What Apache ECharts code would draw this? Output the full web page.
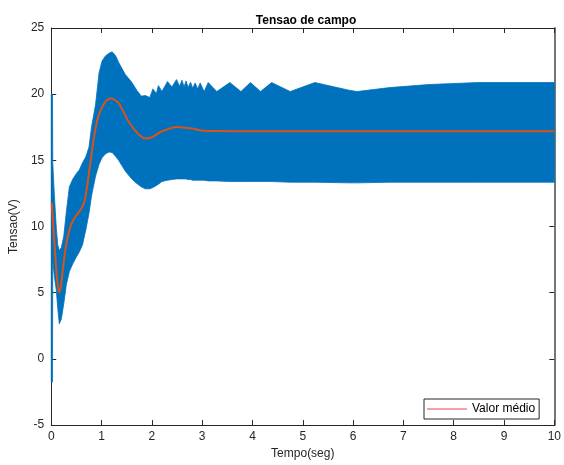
<!DOCTYPE html>
<html>
<head>
<meta charset="utf-8">
<script src="https://cdn.jsdelivr.net/npm/echarts@6/dist/echarts.min.js"></script>
<style>html,body{margin:0;padding:0;background:#fff;}#c{width:564px;height:465px;}</style>
</head>
<body>
<div id="c"></div>
<script>
// Envelope of the oscillating field voltage (time in s, volts)
const envTime  = [0, 0.025, 0.03, 0.06, 0.1, 0.13, 0.16, 0.2, 0.25, 0.3, 0.36, 0.43, 0.5, 0.56, 0.62, 0.69, 0.75, 0.8, 0.88, 0.95, 1.01, 1.08, 1.15, 1.21, 1.28, 1.34, 1.47, 1.6, 1.7, 1.79, 1.87, 1.96, 2.02, 2.09, 2.13, 2.2, 2.31, 2.4, 2.49, 2.55, 2.6, 2.64, 2.68, 2.72, 2.77, 2.81, 2.86, 2.91, 2.96, 3.04, 3.12, 3.29, 3.55, 3.77, 3.96, 4.16, 4.38, 4.75, 5.24, 5.92, 6.08, 6.73, 7.51, 8.49, 10];
const envUpper = [20, 20, 14.8, 12.5, 9.9, 8.6, 8.2, 8.4, 9.3, 11.1, 13.0, 13.6, 14.0, 14.3, 14.8, 15.3, 16.0, 17.5, 19.2, 21.6, 22.5, 22.9, 23.1, 23.2, 22.9, 22.4, 21.5, 20.9, 20.3, 19.85, 19.9, 19.75, 20.4, 20.05, 20.65, 20.2, 20.95, 20.55, 21.1, 20.6, 21.05, 20.55, 21.0, 20.5, 20.9, 20.45, 20.85, 20.4, 20.85, 20.2, 20.88, 20.2, 20.88, 20.2, 20.88, 20.2, 20.88, 20.2, 20.88, 20.3, 20.2, 20.5, 20.73, 20.88, 20.88];
const envLower = [-1.75, -1.75, 7.5, 6.3, 5.2, 3.8, 2.65, 3.0, 4.2, 5.6, 6.6, 7.2, 7.7, 8.1, 8.6, 9.8, 11.0, 12.3, 13.8, 14.7, 15.2, 15.5, 15.63, 15.6, 15.3, 15.0, 14.2, 13.6, 13.25, 13.0, 12.85, 12.85, 12.95, 13.1, 13.2, 13.4, 13.5, 13.55, 13.6, 13.6, 13.6, 13.6, 13.6, 13.55, 13.55, 13.5, 13.5, 13.5, 13.5, 13.5, 13.45, 13.45, 13.4, 13.4, 13.4, 13.4, 13.4, 13.35, 13.35, 13.3, 13.3, 13.35, 13.35, 13.35, 13.35];

// Mean value ("Valor médio")
const meanTime  = [0.01, 0.03, 0.07, 0.11, 0.156, 0.19, 0.234, 0.3, 0.4, 0.49, 0.59, 0.66, 0.72, 0.82, 0.88, 0.95, 1.08, 1.19, 1.34, 1.53, 1.73, 1.86, 2.0, 2.2, 2.51, 2.8, 3.03, 4, 10];
const meanValue = [11.8, 10.6, 8.4, 6.3, 5.0, 5.4, 6.9, 8.7, 10.2, 10.8, 11.3, 11.9, 13.2, 16.0, 17.4, 18.5, 19.45, 19.7, 19.33, 17.97, 16.98, 16.66, 16.75, 17.2, 17.53, 17.4, 17.23, 17.2, 17.2];

const xTicks = {min: 0, max: 10, interval: 1};
const yTicks = {min: -5, max: 25, interval: 5};
const titleText = 'Tensao de campo';
const xName = 'Tempo(seg)';
const yName = 'Tensao(V)';
const legendName = 'Valor médio';

const FONT = 'Liberation Sans, Arial, Helvetica, sans-serif';
const AX = '#262626';
const BLUE = '#0072BD';
const PINK = '#ff9e9e';

const bandData = envTime.map((t, i) => [t, envUpper[i], envLower[i]]);
const meanData = meanTime.map((t, i) => [t, meanValue[i]]);

const chart = echarts.init(document.getElementById('c'), null, {renderer: 'canvas'});
const axisCommon = {
  axisLine: {show: true, onZero: false, lineStyle: {color: AX, width: 1}},
  axisTick: {show: true, inside: true, length: 5, lineStyle: {color: AX}},
  splitLine: {show: false},
  axisLabel: {color: AX, fontFamily: FONT, fontSize: 12}
};
chart.setOption({
  animation: false,
  backgroundColor: '#fff',
  title: {
    text: titleText, left: 301, top: 10, textAlign: 'center',
    textStyle: {fontFamily: FONT, fontSize: 12, fontWeight: 'bold', color: '#000'}
  },
  grid: {left: 45, right: 7, top: 28, bottom: 31, containLabel: false},
  legend: {
    data: [{name: legendName, icon: 'rect'}], left: 424, top: 399,
    padding: [3, 4, 3, 3], itemGap: 5, itemWidth: 40, itemHeight: 2,
    borderColor: AX, borderWidth: 1, backgroundColor: '#fff',
    textStyle: {fontFamily: FONT, fontSize: 12, color: '#000', lineHeight: 14},
    lineStyle: {color: PINK, width: 2},
    itemStyle: {color: PINK}
  },
  xAxis: [
    Object.assign({}, axisCommon, {type: 'value', position: 'bottom', min: xTicks.min, max: xTicks.max, interval: xTicks.interval,
      name: xName, nameLocation: 'middle', nameGap: 21,
      nameTextStyle: {fontFamily: FONT, fontSize: 12, color: AX},
      axisLabel: {color: AX, fontFamily: FONT, fontSize: 12, margin: 6}}),
    Object.assign({}, axisCommon, {type: 'value', position: 'top', min: xTicks.min, max: xTicks.max, interval: xTicks.interval,
      axisLabel: {show: false}})
  ],
  yAxis: [
    Object.assign({}, axisCommon, {type: 'value', position: 'left', min: yTicks.min, max: yTicks.max, interval: yTicks.interval,
      name: yName, nameLocation: 'middle', nameGap: 23,
      nameTextStyle: {fontFamily: FONT, fontSize: 12, color: AX},
      axisLabel: {color: AX, fontFamily: FONT, fontSize: 12, margin: 7}}),
    Object.assign({}, axisCommon, {type: 'value', position: 'right', min: yTicks.min, max: yTicks.max, interval: yTicks.interval,
      axisLabel: {show: false}, axisLine: {show: true, onZero: false, lineStyle: {color: '#777', width: 2}}})
  ],
  series: [
    {
      name: 'band', type: 'custom', data: bandData, encode: {x: 0, y: [1, 2]}, silent: true, z: 2,
      renderItem: function (params, api) {
        if (params.dataIndex !== 0) return null;
        const top = bandData.map(d => api.coord([d[0], d[1]]));
        const bottom = bandData.slice().reverse().map(d => api.coord([d[0], d[2]]));
        return {type: 'polygon', shape: {points: top.concat(bottom)}, style: {fill: BLUE, stroke: BLUE, lineWidth: 0.8}};
      }
    },
    {
      name: legendName, type: 'line', data: meanData, symbol: 'none', smooth: 0.2,
      lineStyle: {width: 2, color: '#D95319'}, itemStyle: {color: '#D95319'}, z: 3
    }
  ]
});
</script>
</body>
</html>
